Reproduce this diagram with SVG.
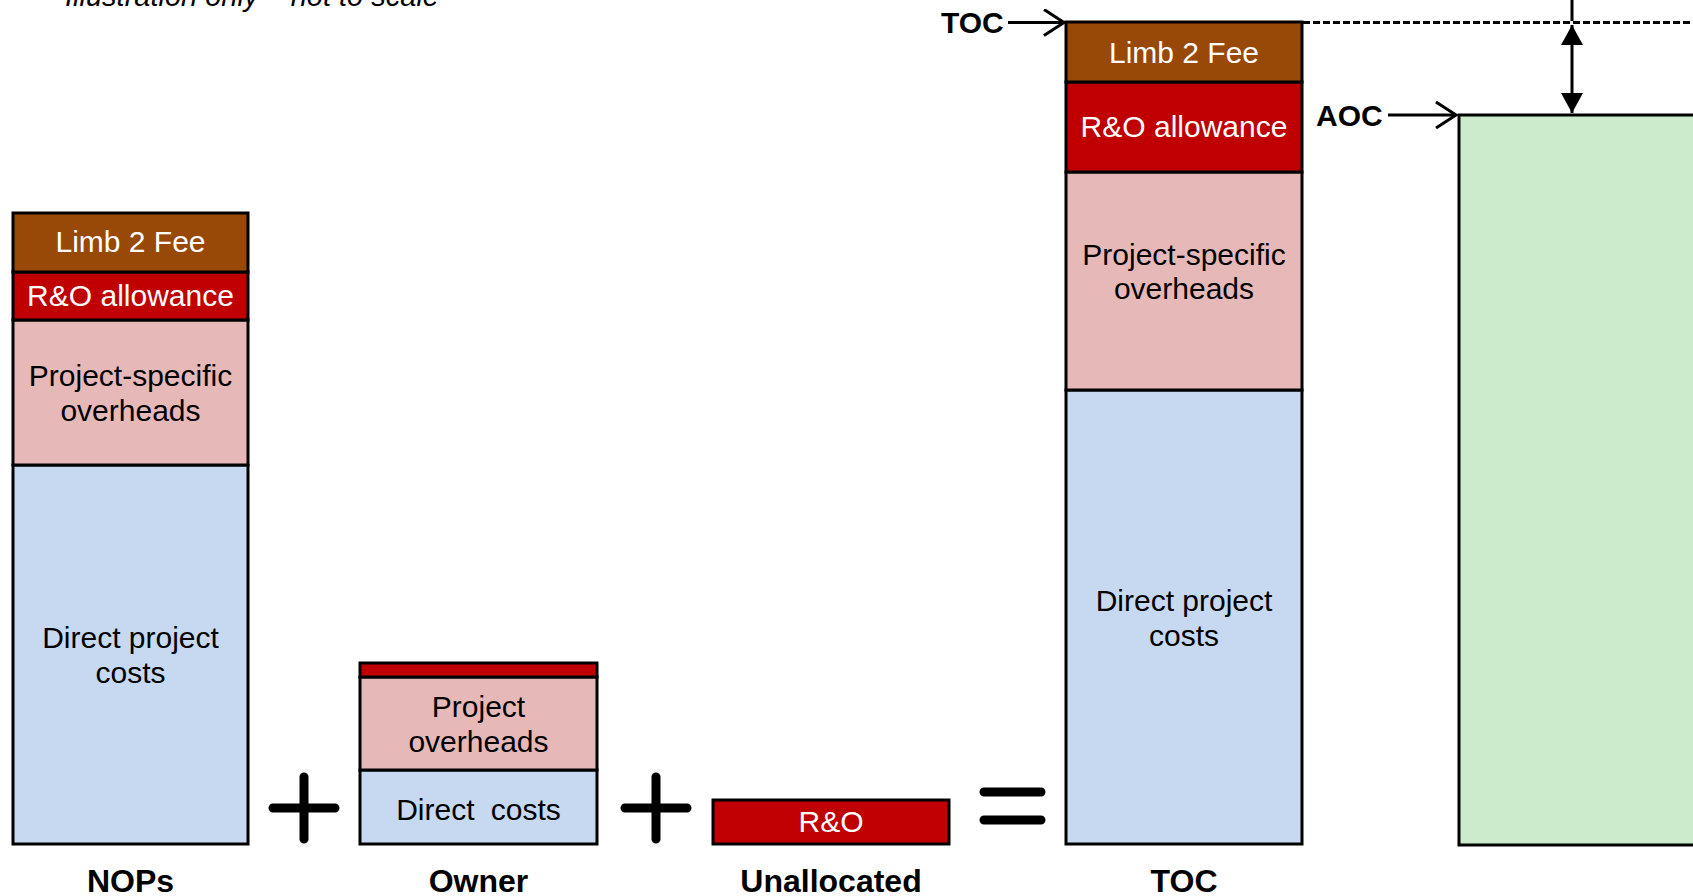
<svg xmlns="http://www.w3.org/2000/svg" width="1693" height="896" viewBox="0 0 1693 896">
<defs>
<style>
.seg{stroke:#000;stroke-width:3}
.fee{fill:#984807}
.ro{fill:#C00000}
.pso{fill:#E6B9B8}
.dir{fill:#C6D9F1}
.aoc{fill:#CCEBCC}
.t{font-family:"Liberation Sans",Arial,sans-serif;font-size:30px;text-anchor:middle}
.w{fill:#fff}
.k{fill:#000}
.lbl{font-family:"Liberation Sans",Arial,sans-serif;font-size:32px;font-weight:bold;text-anchor:middle;fill:#000}
.side{font-family:"Liberation Sans",Arial,sans-serif;font-size:30px;font-weight:bold;fill:#000}
.op{stroke:#000;stroke-width:9;stroke-linecap:round;fill:none}
.ln{stroke:#000;stroke-width:3;fill:none}
</style>
<marker id="chev" viewBox="0 0 24 28" refX="22" refY="14" markerWidth="24" markerHeight="28" markerUnits="userSpaceOnUse" orient="auto">
<path d="M2,1 L22,14 L2,27" fill="none" stroke="#000" stroke-width="3"/>
</marker>
<marker id="tri" viewBox="0 0 20 22" refX="20" refY="11" markerWidth="20" markerHeight="22" markerUnits="userSpaceOnUse" orient="auto-start-reverse">
<path d="M0,0 L20,11 L0,22 Z" fill="#000"/>
</marker>
</defs>
<rect width="1693" height="896" fill="#fff"/>
<text x="65" y="6" font-family="'Liberation Sans',Arial,sans-serif" font-size="29" font-style="italic" fill="#000">Illustration only – not to scale</text>

<g id="nops">
<rect class="seg dir" x="13" y="465" width="235" height="379"/>
<rect class="seg pso" x="13" y="320" width="235" height="145"/>
<rect class="seg ro" x="13" y="272" width="235" height="48"/>
<rect class="seg fee" x="13" y="213" width="235" height="59"/>
<text class="t w" x="130.5" y="252">Limb 2 Fee</text>
<text class="t w" x="130.5" y="306">R&amp;O allowance</text>
<text class="t k" x="130.5" y="386">Project-specific</text>
<text class="t k" x="130.5" y="421">overheads</text>
<text class="t k" x="130.5" y="648">Direct project</text>
<text class="t k" x="130.5" y="683">costs</text>
<text class="lbl" x="130.5" y="892">NOPs</text>
</g>

<g id="owner">
<rect class="seg dir" x="360" y="770" width="237" height="74"/>
<rect class="seg pso" x="360" y="677" width="237" height="93"/>
<rect class="seg ro" x="360" y="663" width="237" height="14"/>
<text class="t k" x="478.5" y="717">Project</text>
<text class="t k" x="478.5" y="752">overheads</text>
<text class="t k" x="478.5" y="820" word-spacing="8">Direct costs</text>
<text class="lbl" x="478.5" y="892">Owner</text>
</g>

<g id="unallocated">
<rect class="seg ro" x="713" y="800" width="236" height="44"/>
<text class="t w" x="831" y="832" font-size="28">R&amp;O</text>
<text class="lbl" x="831" y="892">Unallocated</text>
</g>

<g id="toc">
<rect class="seg dir" x="1066" y="390" width="236" height="454"/>
<rect class="seg pso" x="1066" y="172" width="236" height="218"/>
<rect class="seg ro" x="1066" y="82" width="236" height="90"/>
<rect class="seg fee" x="1066" y="22" width="236" height="60"/>
<text class="t w" x="1184" y="63">Limb 2 Fee</text>
<text class="t w" x="1184" y="137">R&amp;O allowance</text>
<text class="t k" x="1184" y="265">Project-specific</text>
<text class="t k" x="1184" y="299">overheads</text>
<text class="t k" x="1184" y="611">Direct project</text>
<text class="t k" x="1184" y="646">costs</text>
<text class="lbl" x="1184" y="892">TOC</text>
</g>

<g id="aoc">
<rect class="seg aoc" x="1459" y="115" width="240" height="730"/>
</g>

<g id="operators">
<path class="op" d="M273,808 H335 M304,777 V839"/>
<path class="op" d="M625,808 H687 M656,777 V839"/>
<path class="op" d="M984,792 H1041 M984,820 H1041"/>
</g>

<g id="connectors">
<text class="side" x="941" y="33">TOC</text>
<line class="ln" x1="1008" y1="22.5" x2="1064" y2="22.5" marker-end="url(#chev)"/>
<text class="side" x="1316" y="126">AOC</text>
<line class="ln" x1="1388" y1="115" x2="1456" y2="115" marker-end="url(#chev)"/>
<line x1="1303" y1="22.5" x2="1693" y2="22.5" stroke="#000" stroke-width="3" stroke-dasharray="7 3"/>
<line class="ln" x1="1572" y1="0" x2="1572" y2="21"/>
<line class="ln" x1="1572" y1="25" x2="1572" y2="113" marker-start="url(#tri)" marker-end="url(#tri)"/>
</g>
</svg>
